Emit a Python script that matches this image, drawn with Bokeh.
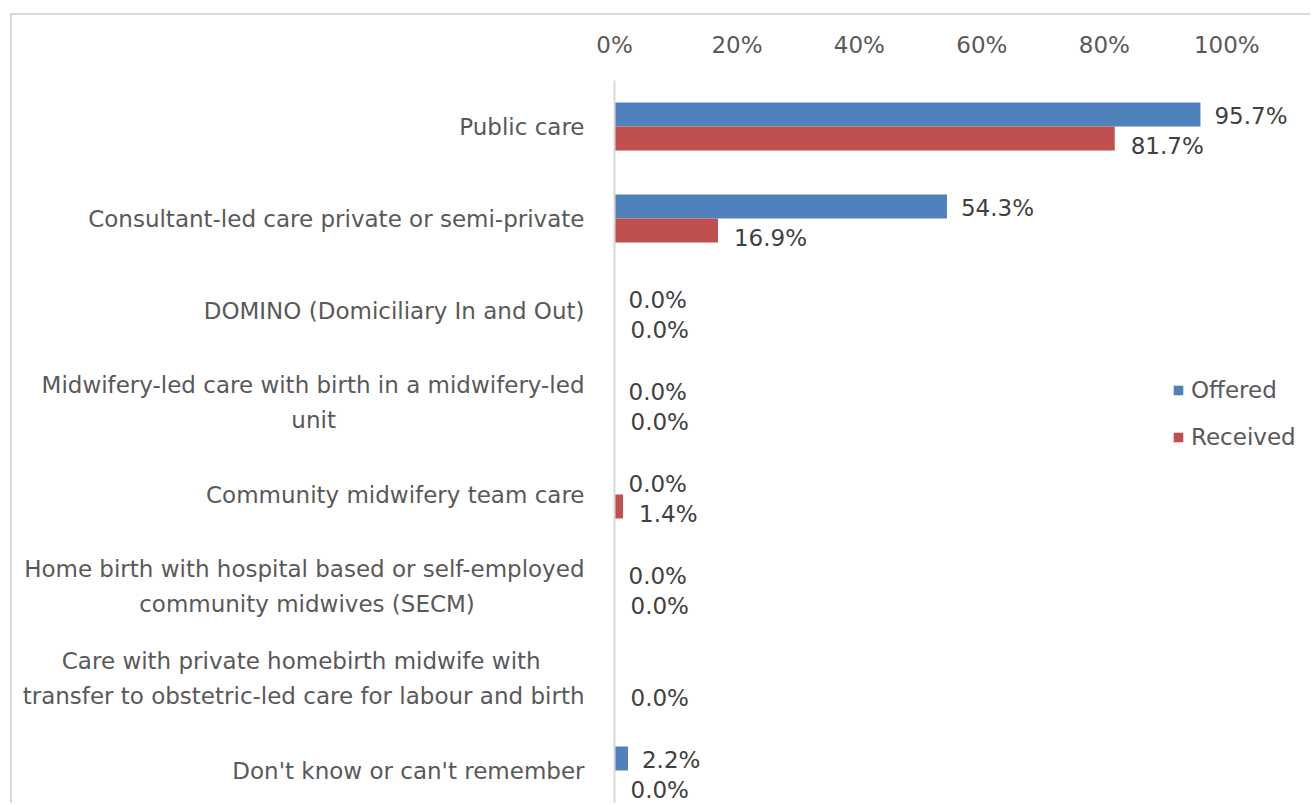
from bokeh.plotting import figure
from bokeh.models import (Range1d, FixedTicker, PrintfTickFormatter, ColumnDataSource,
                          Legend, LegendItem)
from bokeh.transform import dodge
from bokeh.core.properties import value
from bokeh.embed import file_html
from bokeh.resources import INLINE

# ---------------- data ----------------
categories = [
    "Public care",
    "Consultant-led care private or semi-private",
    "DOMINO (Domiciliary In and Out)",
    "Midwifery-led care with birth in a midwifery-led\nunit",
    "Community midwifery team care",
    "Home birth with hospital based or self-employed\ncommunity midwives (SECM)",
    "Care with private homebirth midwife with\ntransfer to obstetric-led care for labour and birth",
    "Don't know or can't remember",
]
offered = [95.7, 54.3, 0.0, 0.0, 0.0, 0.0, 0.0, 2.2]
received = [81.7, 16.9, 0.0, 0.0, 1.4, 0.0, 0.0, 0.0]
offered_label_shown = [True, True, True, True, True, True, False, True]
series_names = ["Offered", "Received"]
x_ticks = [0, 20, 40, 60, 80, 100]

# ---------------- style ----------------
FONT = "DejaVu Sans"
FS = "23px"
BLUE = "#4F81BD"
RED = "#C0504D"
AXIS_TXT = "#595959"
LBL_TXT = "#404040"
BAR_H = 0.26

# approximate DejaVu Sans advance widths (em) used to centre the lines of
# multi-line category labels (the axis right-aligns each line otherwise)
_W = {" ": .318, "(": .390, ")": .390, "-": .361, "'": .275, ".": .318,
      "a": .613, "b": .635, "c": .550, "d": .635, "e": .615, "f": .352, "g": .635,
      "h": .634, "i": .278, "k": .579, "l": .278, "m": .974, "n": .634, "o": .612,
      "p": .635, "r": .411, "s": .521, "t": .392, "u": .634, "v": .592, "w": .818,
      "x": .592, "y": .592, "C": .698, "E": .632, "M": .863, "S": .635, "H": .752,
      "P": .603, "D": .770, "O": .787, "I": .295, "N": .748, "R": .695, "U": .732}


def centre_lines(label):
    lines = label.split("\n")
    if len(lines) == 1:
        return label
    widths = [sum(_W.get(ch, .6) for ch in ln) for ln in lines]
    wmax = max(widths)
    out = []
    for ln, w in zip(lines, widths):
        pad = int(round((wmax - w) / 2 / _W[" "]))
        out.append(ln + "\u00a0" * pad)
    return "\n".join(out)


rows = list(range(len(categories)))
src = ColumnDataSource(dict(
    row=rows,
    offered=offered,
    received=received,
    offered_txt=[f"{v:.1f}%" if s else "" for v, s in zip(offered, offered_label_shown)],
    received_txt=[f"{v:.1f}%" for v in received],
))

p = figure(width=1300, height=790,
           x_range=Range1d(0, 114), y_range=Range1d(7.38, -0.5),
           x_axis_location="above",
           output_backend="svg", toolbar_location=None,
           min_border_left=602, min_border_top=65,
           min_border_right=0, min_border_bottom=0)
p.styles = {"margin-left": "10px", "margin-top": "13px",
            "border-top": "2px solid #D9D9D9", "border-left": "2px solid #D9D9D9"}
p.outline_line_color = None
p.xgrid.visible = False
p.ygrid.visible = False

# x axis (top)
xa = p.xaxis[0]
xa.ticker = FixedTicker(ticks=x_ticks)
xa.formatter = PrintfTickFormatter(format="%d%%")
xa.axis_line_color = None
xa.major_tick_line_color = None
xa.minor_tick_line_color = None
xa.major_label_text_font = FONT
xa.major_label_text_font_size = FS
xa.major_label_text_color = AXIS_TXT
xa.major_label_standoff = 17

# y axis (left, categories)
ya = p.yaxis[0]
ya.ticker = FixedTicker(ticks=rows)
ya.major_label_overrides = {i: centre_lines(c) for i, c in enumerate(categories)}
ya.axis_line_color = "#D9D9D9"
ya.axis_line_width = 2
ya.major_tick_line_color = None
ya.minor_tick_line_color = None
ya.major_label_text_font = FONT
ya.major_label_text_font_size = FS
ya.major_label_text_color = AXIS_TXT
ya.major_label_text_line_height = 1.35
ya.major_label_standoff = 24

# bars
r_off = p.hbar(y=dodge("row", -BAR_H / 2, range=p.y_range), left=0, right="offered",
               height=BAR_H, fill_color=BLUE, line_color=None, source=src)
r_rec = p.hbar(y=dodge("row", BAR_H / 2, range=p.y_range), left=0, right="received",
               height=BAR_H, fill_color=RED, line_color=None, source=src)

# data labels
p.text(x="offered", y=dodge("row", -BAR_H / 2, range=p.y_range), text="offered_txt",
       x_offset=14, y_offset=1, text_align="left", text_baseline="middle",
       text_font=value(FONT), text_font_size=FS, text_color=LBL_TXT, source=src)
p.text(x="received", y=dodge("row", BAR_H / 2, range=p.y_range), text="received_txt",
       x_offset=16, y_offset=8, text_align="left", text_baseline="middle",
       text_font=value(FONT), text_font_size=FS, text_color=LBL_TXT, source=src)

# legend
legend = Legend(items=[LegendItem(label=series_names[0], renderers=[r_off]),
                       LegendItem(label=series_names[1], renderers=[r_rec])],
                location=(558, 355))
legend.glyph_width = 12
legend.glyph_height = 12
legend.label_standoff = 7
legend.spacing = 21
legend.padding = 0
legend.margin = 0
legend.border_line_color = None
legend.background_fill_alpha = 0
legend.label_text_font = FONT
legend.label_text_font_size = FS
legend.label_text_color = AXIS_TXT
p.add_layout(legend, "center")

open("out.html", "w").write(file_html(p, INLINE))
